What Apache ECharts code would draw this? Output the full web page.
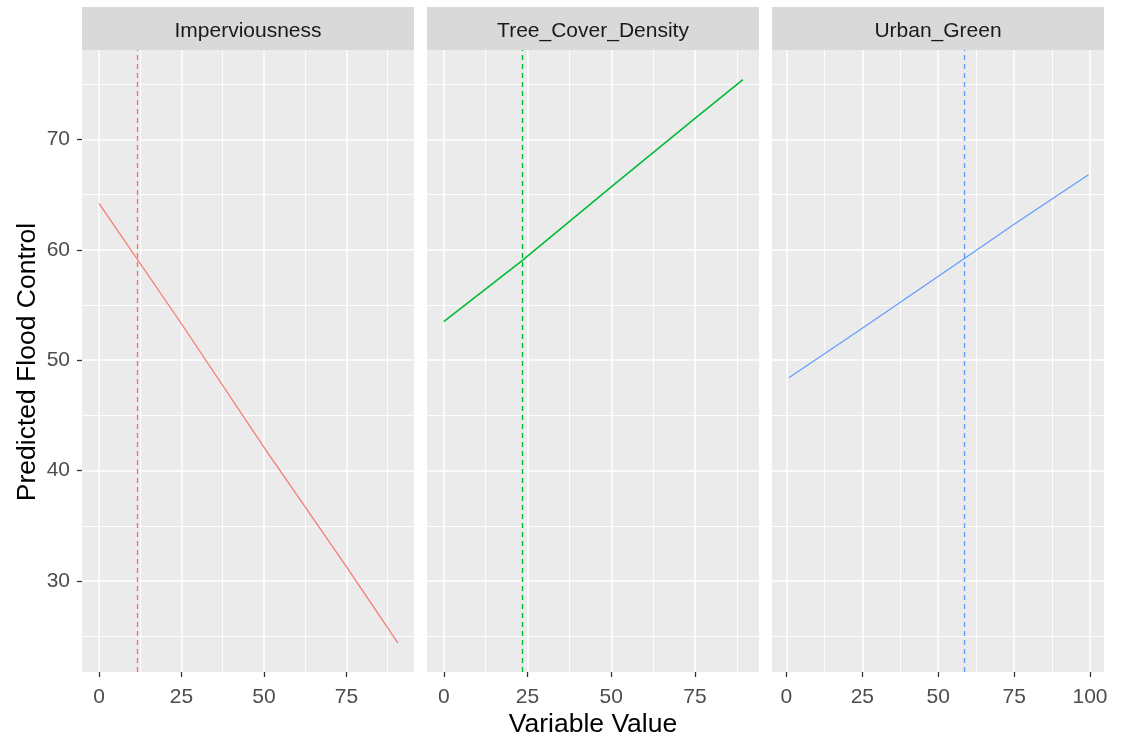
<!DOCTYPE html>
<html><head><meta charset="utf-8">
<script src="https://cdn.jsdelivr.net/npm/echarts@6/dist/echarts.min.js"></script>
<style>html,body{margin:0;padding:0;background:#fff}#c{width:1127px;height:738px}</style>
</head><body><div id="c"></div>
<script>
// ---- data ----
const panels = ['Imperviousness', 'Tree_Cover_Density', 'Urban_Green'];
const impX = [0, 25, 50.5, 75, 90.6];
const impY = [64.2, 53.3, 41.9, 31.3, 24.4];
const treeX = [0, 23.3, 50, 75, 89.3];
const treeY = [53.5, 59.0, 65.7, 71.9, 75.4];
const urbanX = [0.8, 25, 58.6, 75, 99.5];
const urbanY = [48.4, 52.9, 59.2, 62.3, 66.8];
const meanLines = [11.6, 23.3, 58.6];
const yTicks = [30, 40, 50, 60, 70];
const yMinor = [25, 35, 45, 55, 65, 75];
const xTicks = [[0, 25, 50, 75], [0, 25, 50, 75], [0, 25, 50, 75, 100]];
const xMinor = [12.5, 37.5, 62.5, 87.5];
const xRanges = [[-5.15, 95.5], [-5.0, 94.1], [-4.75, 104.6]];
const yRange = [21.76, 78.09];
const xTitle = 'Variable Value';
const yTitle = 'Predicted Flood Control';

// ---- styles ----
const colors = ['#F8766D', '#00BA38', '#619CFF'];
const lineWidths = [1.2, 1.6, 1.2];
const FONT = 'Liberation Sans, Arial, sans-serif';
const gridLeft = [82, 427, 772];
const gridW = 332, gridTop = 50, gridH = 622;

const seriesX = [impX, treeX, urbanX];
const seriesY = [impY, treeY, urbanY];

const grids = [], xAxes = [], yAxes = [], series = [], graphics = [];
for (let i = 0; i < 3; i++) {
  grids.push({left: gridLeft[i], top: gridTop, width: gridW, height: gridH,
    show: true, backgroundColor: '#EBEBEB', borderWidth: 0, containLabel: false});
  // major x
  xAxes.push({type: 'value', gridIndex: i, min: xRanges[i][0], max: xRanges[i][1], position: 'bottom',
    axisLine: {show: false, onZero: false},
    axisTick: {show: true, length: 5, customValues: xTicks[i], lineStyle: {color: '#333333', width: 1.3}},
    axisLabel: {show: true, customValues: xTicks[i], margin: 15, color: '#4D4D4D', fontSize: 21, fontFamily: FONT},
    splitLine: {show: true, lineStyle: {color: '#FFFFFF', width: 1.5}}, z: 1});
  // minor x
  xAxes.push({type: 'value', gridIndex: i, min: xRanges[i][0], max: xRanges[i][1], position: 'top',
    axisLine: {show: false, onZero: false},
    axisTick: {show: false, customValues: xMinor},
    axisLabel: {show: false, customValues: xMinor},
    splitLine: {show: true, lineStyle: {color: '#FFFFFF', width: 0.9}}, z: 0});
  // major y
  yAxes.push({type: 'value', gridIndex: i, min: yRange[0], max: yRange[1], position: 'left',
    axisLine: {show: false, onZero: false},
    axisTick: {show: i === 0, length: 5, customValues: yTicks, lineStyle: {color: '#333333', width: 1.3}},
    axisLabel: {show: i === 0, customValues: yTicks, margin: 12, color: '#4D4D4D', fontSize: 21, fontFamily: FONT},
    splitLine: {show: true, lineStyle: {color: '#FFFFFF', width: 1.5}}, z: 1});
  // minor y
  yAxes.push({type: 'value', gridIndex: i, min: yRange[0], max: yRange[1], position: 'right',
    axisLine: {show: false, onZero: false},
    axisTick: {show: false, customValues: yMinor},
    axisLabel: {show: false, customValues: yMinor},
    splitLine: {show: true, lineStyle: {color: '#FFFFFF', width: 0.9}}, z: 0});

  series.push({type: 'line', xAxisIndex: 2 * i, yAxisIndex: 2 * i,
    data: seriesX[i].map((x, k) => [x, seriesY[i][k]]),
    showSymbol: false, symbol: 'none', silent: true,
    lineStyle: {color: colors[i], width: lineWidths[i]}, z: 5,
    markLine: {silent: true, symbol: 'none', label: {show: false},
      lineStyle: {color: colors[i], type: [5, 4], width: 1.4},
      data: [{xAxis: meanLines[i]}]}});

  graphics.push({type: 'rect', left: gridLeft[i], top: 7, shape: {width: gridW, height: 43},
    style: {fill: '#D9D9D9'}, silent: true});
  graphics.push({type: 'text', x: gridLeft[i] + gridW / 2, y: 31,
    style: {text: panels[i], fill: '#1A1A1A', font: '21px ' + FONT, align: 'center', verticalAlign: 'middle'}});
}
graphics.push({type: 'text', x: 593, y: 725,
  style: {text: xTitle, fill: '#000000', font: '26.5px ' + FONT, align: 'center', verticalAlign: 'middle'}});
graphics.push({type: 'text', x: 28, y: 362, rotation: Math.PI / 2,
  style: {text: yTitle, fill: '#000000', font: '26.5px ' + FONT, align: 'center', verticalAlign: 'middle'}});

const chart = echarts.init(document.getElementById('c'), null, {renderer: 'canvas'});
chart.setOption({
  animation: false,
  backgroundColor: '#FFFFFF',
  grid: grids, xAxis: xAxes, yAxis: yAxes, series: series, graphic: graphics
});
</script>
</body></html>
